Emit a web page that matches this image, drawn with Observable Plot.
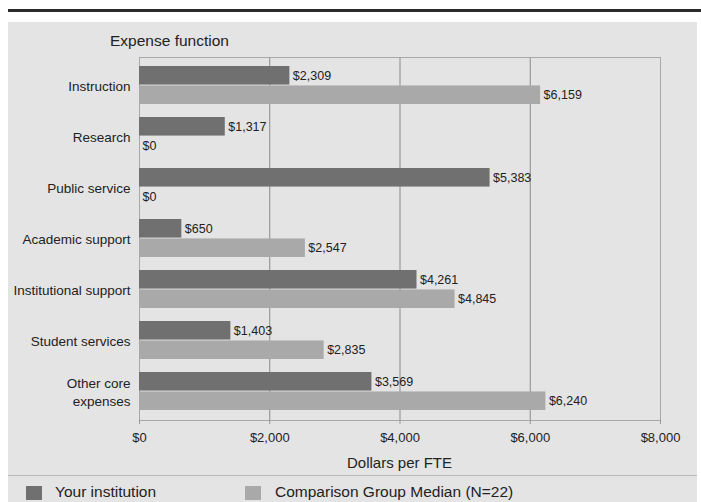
<!DOCTYPE html>
<html><head><meta charset="utf-8">
<script src="https://cdn.jsdelivr.net/npm/d3@7"></script>
<script src="https://cdn.jsdelivr.net/npm/@observablehq/plot@0.6"></script>
<style>
body{margin:0;background:#fff;font-family:"Liberation Sans",Arial,sans-serif;}
#rule{position:absolute;left:8px;top:9px;width:693px;height:3px;background:#2a2a2a;}
#panel{position:absolute;left:8px;top:22px;width:689px;height:480px;background:#e4e4e4;}
#title{position:absolute;left:102px;top:10px;font-size:15.5px;color:#222;}
#legend{position:absolute;left:0;top:453px;width:689px;height:27px;border-top:1px solid #b8b8b8;font-size:15.5px;color:#222;}
.sw{position:absolute;top:10px;width:16px;height:14px;}
.lt{position:absolute;top:7px;}
</style></head>
<body>
<div id="rule"></div>
<div id="panel">
<div id="chart"></div>
<div id="title">Expense function</div>
<div id="legend"></div>
</div>
<script>
const categories = ["Instruction","Research","Public service","Academic support","Institutional support","Student services","Other core expenses"];
const series = ["Your institution","Comparison Group Median (N=22)"];
const yourValues = [2309,1317,5383,650,4261,1403,3569];
const medianValues = [6159,0,0,2547,4845,2835,6240];
const xTicks = [0,2000,4000,6000,8000];
const colors = ["#707070","#a9a9a9"];

const W = 689, H = 453, mL = 131, mR = 37, mT = 35, mB = 55;
const pIn = 0.25, pOut = 0.125;
const step = (H - mT - mB) / (categories.length - pIn + 2 * pOut);
const bw = step * (1 - pIn);
const half = bw / 2;

const fmt = v => "$" + d3.format(",")(v);
const yours = categories.map((c,i)=>({cat:c, value:yourValues[i]}));
const medians = categories.map((c,i)=>({cat:c, value:medianValues[i]}));

const chart = Plot.plot({
  width:W, height:H,
  marginLeft:mL, marginRight:mR, marginTop:mT, marginBottom:mB,
  style:{background:"transparent", fontFamily:"Liberation Sans, Arial, sans-serif", fontSize:"12px", color:"#222"},
  x:{domain:[0,8000], label:null},
  y:{domain:categories, paddingInner:pIn, paddingOuter:pOut, label:null},
  marks:[
    Plot.gridX(xTicks.slice(1,-1), {stroke:"#8a8a8a", strokeOpacity:1, strokeWidth:1}),
    Plot.frame({stroke:"#a8a8a8"}),
    Plot.barX(yours, {y:"cat", x:"value", fill:colors[0], insetBottom:half}),
    Plot.barX(medians, {y:"cat", x:"value", fill:colors[1], insetTop:half}),
    Plot.text(yours, {y:"cat", x:"value", text:d=>fmt(d.value), textAnchor:"start", dx:3, dy:-half/2, fill:"#222", fontSize:12.5}),
    Plot.text(medians, {y:"cat", x:"value", text:d=>fmt(d.value), textAnchor:"start", dx:3, dy:half/2, fill:"#222", fontSize:12.5}),
    Plot.axisX({ticks:xTicks, tickFormat:fmt, tickSize:4, tickPadding:8, stroke:"#999", fontSize:13, label:null}),
    Plot.axisY({tickSize:0, tickPadding:9, fontSize:13.5, lineHeight:1.33, label:null, tickFormat:d=>d==="Other core expenses"?"Other core\nexpenses":d})
  ]
});
document.getElementById("chart").appendChild(chart);
const svg = d3.select(chart);
svg.append("text").attr("x",(mL + W - mR)/2).attr("y",446).attr("text-anchor","middle")
  .attr("font-size",15).attr("fill","#222").text("Dollars per FTE");

const leg = document.getElementById("legend");
const pos = [[18,47],[237,267]];
series.forEach((s,i)=>{
  const sw=document.createElement("div");sw.className="sw";sw.style.left=pos[i][0]+"px";sw.style.background=colors[i];leg.appendChild(sw);
  const t=document.createElement("div");t.className="lt";t.style.left=pos[i][1]+"px";t.textContent=s;leg.appendChild(t);
});
</script>
</body></html>
